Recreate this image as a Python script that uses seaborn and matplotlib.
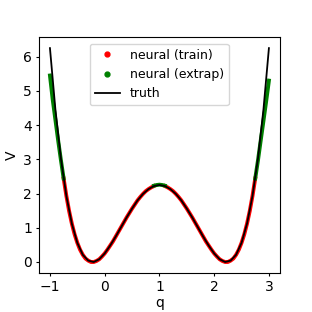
import numpy as np
import pandas as pd
import matplotlib
matplotlib.use("Agg")
import matplotlib.pyplot as plt
from matplotlib.lines import Line2D
import seaborn as sns

# truth curve (step 0.1)
q_truth = [-1.0, -0.9, -0.8, -0.7, -0.6, -0.5, -0.4, -0.3, -0.2, -0.1, 0.0,
           0.1, 0.2, 0.3, 0.4, 0.5, 0.6, 0.7, 0.8, 0.9, 1.0,
           1.1, 1.2, 1.3, 1.4, 1.5, 1.6, 1.7, 1.8, 1.9, 2.0,
           2.1, 2.2, 2.3, 2.4, 2.5, 2.6, 2.7, 2.8, 2.9, 3.0]
V_truth = [6.25, 4.45, 3.03, 1.93, 1.12, 0.56, 0.21, 0.04, 0.00, 0.08, 0.25,
           0.48, 0.74, 1.02, 1.30, 1.56, 1.80, 1.99, 2.13, 2.22, 2.25,
           2.22, 2.13, 1.99, 1.80, 1.56, 1.30, 1.02, 0.74, 0.48, 0.25,
           0.08, 0.00, 0.04, 0.21, 0.56, 1.12, 1.93, 3.03, 4.45, 6.25]

# neural net predictions inside the training range (two pieces, step 0.05)
q_train_left = [-0.75, -0.7, -0.65, -0.6, -0.55, -0.5, -0.45, -0.4, -0.35, -0.3,
                -0.25, -0.2, -0.15, -0.1, -0.05, 0.0, 0.05, 0.1, 0.15, 0.2,
                0.25, 0.3, 0.35, 0.4, 0.45, 0.5, 0.55, 0.6, 0.65, 0.7,
                0.75, 0.8, 0.85, 0.9]
V_train_left = [2.44, 1.93, 1.49, 1.12, 0.81, 0.56, 0.36, 0.21, 0.10, 0.04,
                0.00, 0.00, 0.03, 0.08, 0.16, 0.25, 0.36, 0.48, 0.60, 0.74,
                0.88, 1.02, 1.16, 1.30, 1.43, 1.56, 1.68, 1.80, 1.90, 1.99,
                2.07, 2.13, 2.18, 2.22]
q_train_right = [1.1, 1.15, 1.2, 1.25, 1.3, 1.35, 1.4, 1.45, 1.5, 1.55,
                 1.6, 1.65, 1.7, 1.75, 1.8, 1.85, 1.9, 1.95, 2.0, 2.05,
                 2.1, 2.15, 2.2, 2.25, 2.3, 2.35, 2.4, 2.45, 2.5, 2.55,
                 2.6, 2.65, 2.7, 2.75]
V_train_right = [2.22, 2.18, 2.13, 2.07, 1.99, 1.90, 1.80, 1.68, 1.56, 1.43,
                 1.30, 1.16, 1.02, 0.88, 0.74, 0.60, 0.48, 0.36, 0.25, 0.16,
                 0.08, 0.03, 0.00, 0.00, 0.04, 0.10, 0.21, 0.36, 0.56, 0.81,
                 1.12, 1.49, 1.93, 2.44]

# neural net predictions outside the training range
q_ext_left = [-1.0, -0.95, -0.9, -0.85, -0.8, -0.75]
V_ext_left = [5.45, 4.75, 4.15, 3.55, 2.98, 2.44]
q_ext_mid = [0.9, 0.95, 1.0, 1.05, 1.1]
V_ext_mid = [2.23, 2.25, 2.26, 2.25, 2.23]
q_ext_right = [2.75, 2.8, 2.85, 2.9, 2.95, 3.0]
V_ext_right = [2.44, 2.97, 3.55, 4.12, 4.70, 5.30]

plt.rcParams["font.size"] = 10
plt.rcParams["xtick.major.size"] = 2.5
plt.rcParams["ytick.major.size"] = 2.5
plt.rcParams["xtick.major.pad"] = 2.5
plt.rcParams["ytick.major.pad"] = 2.5

train = pd.concat([
    pd.DataFrame({"q": q_train_left, "V": V_train_left, "seg": 0}),
    pd.DataFrame({"q": q_train_right, "V": V_train_right, "seg": 1}),
])
extrap = pd.concat([
    pd.DataFrame({"q": q_ext_left, "V": V_ext_left, "seg": 0}),
    pd.DataFrame({"q": q_ext_mid, "V": V_ext_mid, "seg": 1}),
    pd.DataFrame({"q": q_ext_right, "V": V_ext_right, "seg": 2}),
])
truth = pd.DataFrame({"q": q_truth, "V": V_truth})

fig, ax = plt.subplots(figsize=(3.12, 3.12), dpi=100)
fig.subplots_adjust(left=0.125, right=0.897, top=0.88, bottom=0.126)

sns.lineplot(data=train, x="q", y="V", units="seg", estimator=None,
             color="red", lw=2.8, ax=ax)
sns.lineplot(data=extrap, x="q", y="V", units="seg", estimator=None,
             color="green", lw=2.8, ax=ax)
sns.lineplot(data=truth, x="q", y="V", color="black", lw=1.3, ax=ax)

ax.set_xticks([-1, 0, 1, 2, 3])
ax.set_yticks([0, 1, 2, 3, 4, 5, 6])
ax.set_xlabel("q", labelpad=2)
ax.set_ylabel("V", labelpad=3)

handles = [
    Line2D([], [], ls="none", marker="o", ms=3.5, color="red"),
    Line2D([], [], ls="none", marker="o", ms=3.5, color="green"),
    Line2D([], [], color="black", lw=1.3),
]
ax.legend(handles, ["neural (train)", "neural (extrap)", "truth"],
          loc="upper center", fontsize=9)

fig.savefig("out.png", dpi=100)
